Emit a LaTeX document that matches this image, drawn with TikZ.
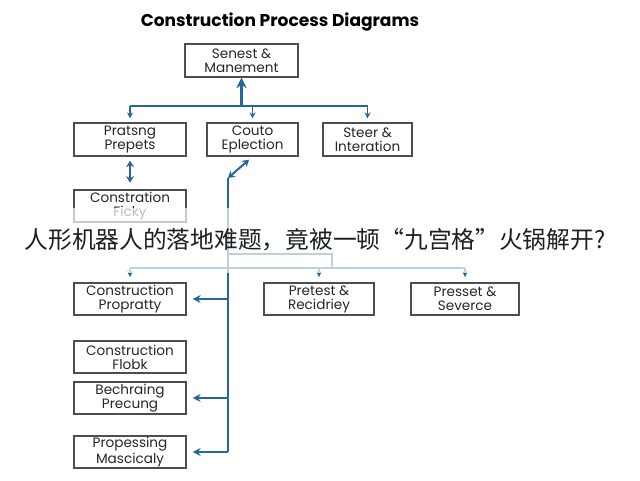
\documentclass[tikz,border=0pt]{standalone}
\usepackage{fontspec}
\setmainfont{Poppins}
\newfontfamily\cjk{Noto Sans CJK SC}
\usepackage{xcolor}
\usetikzlibrary{arrows.meta, positioning}
\definecolor{linkblue}{RGB}{38,104,152}
\definecolor{boxgray}{RGB}{78,78,78}

\begin{document}
\begin{tikzpicture}[
    x=0.75pt, y=-0.75pt,
    node distance=20pt and 20pt,
    every node/.style={font=\fontsize{10.2}{10.4}\selectfont, text=black!85},
    box/.style={rectangle, draw=boxgray, line width=0.9pt, minimum width=#1, minimum height=24pt, align=center, inner sep=1pt},
    box/.default=84pt,
    link/.style={draw=linkblue, line width=1.2pt},
    arrow/.style={link, -{Stealth[length=4.5pt, width=4.5pt]}},
    dblarrow/.style={link, line width=1.5pt, {Stealth[length=5pt, width=6pt]}-{Stealth[length=5pt, width=6pt]}}
]
\useasboundingbox (0,0) rectangle (640,480);

% Title
\node[font=\bfseries\fontsize{12.8}{15}\selectfont, text=black] (title) at (280,22) {Construction Process Diagrams};

% Top
\node[box=84.75pt, minimum height=24.75pt] (sen) at (241.5,60.5) {Senest \&\\Manement};

% Second row
\node[box, minimum height=24.75pt, below=33.6pt of sen, xshift=-83.6pt] (prat) {Pratsng\\Prepets};
\node[box=68.25pt, minimum height=24.75pt, right=14.85pt of prat] (couto) {Couto\\Eplection};
\node[box=66.75pt, minimum height=24.75pt, right=17.85pt of couto] (steer) {Steer \&\\Interation};

% Left column
\node[box, below=24.6pt of prat] (cficky) {Constration\\Ficky};
\node[box, below=44.85pt of cficky] (cprop) {Construction\\Propratty};
\node[box, below=18.6pt of cprop] (cflob) {Construction\\Flobk};
\node[box, below=5.85pt of cflob] (bech) {Bechraing\\Precung};
\node[box, below=15.6pt of bech] (propes) {Propessing\\Mascicaly};

% Right of third row
\node[box=82.5pt, right=57.6pt of cprop] (pret) {Pretest \&\\Recidriey};
\node[box=81pt, right=26.85pt of pret] (pres) {Presset \&\\Severce};

% Connectors, top
\coordinate (hub) at (241.5,106);
\coordinate (hubl) at (130,106);
\coordinate (hubr) at (367.5,106);
\draw[link, line width=1.4pt] (hubl) -- (hubr);
\draw[link, line width=1.6pt, -{Stealth[length=8pt, width=8pt]}] (hub) -- (sen);
\foreach \n in {prat,couto,steer}
    \draw[arrow, shorten >=3pt] (\n.north |- hub) -- (\n.north);

% Double arrows
\draw[dblarrow, shorten <=3pt, shorten >=5pt] (prat) -- (cficky);
\coordinate (bend) at (228,178);
\draw[dblarrow, shorten >=3.5pt] (bend) -- (couto.south);

% Spine
\coordinate (spineend) at (228,452);
\draw[link, line width=1.7pt] (bend) -- (spineend);
\foreach \n in {cprop,bech,propes}
    \draw[link, line width=1.4pt, -{Stealth[length=6pt, width=6pt]}, shorten >=4.5pt] (bend |- \n.east) -- (\n.east);

% Branch to third row
\coordinate (tee) at (228,254);
\coordinate (teer) at (332,254);
\coordinate (drop) at (332,268);
\coordinate (rowl) at (130,268);
\coordinate (rowr) at (465,268);
\draw[link, line width=1pt] (tee) -- (teer) -- (drop);
\draw[link, line width=1pt] (rowl) -- (rowr);
\foreach \n in {cprop,pret,pres}
    \draw[arrow, line width=1pt, shorten >=4pt] (\n.north |- rowl) -- (\n.north);

% Overlay band
\fill[white, opacity=0.7] (0,208) rectangle (640,273);
\node[font=\cjk\fontsize{17.8}{20}\selectfont, text=black!88] (headline) at (315,240) {人形机器人的落地难题，竟被一顿“九宫格”火锅解开?};

\end{tikzpicture}
\end{document}
